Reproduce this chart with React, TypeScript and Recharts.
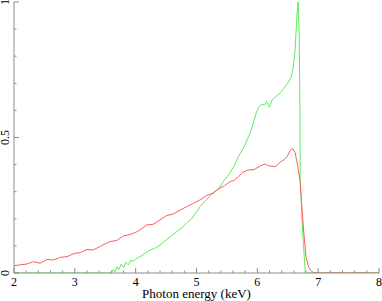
import { LineChart, Line, XAxis, YAxis } from "recharts";

const AXIS = "#8c8c8c";
const FONT = "'Liberation Serif', 'DejaVu Serif', serif";

// model curves (photon energy in keV, normalised counts)
const redEnergy = [
  2.0, 2.1, 2.21, 2.32, 2.43, 2.54, 2.65, 2.76, 2.87, 3.0, 3.09, 3.2, 3.3, 3.41,
  3.5, 3.58, 3.69, 3.8, 3.91, 4.0, 4.07, 4.18, 4.29, 4.4, 4.51, 4.62, 4.73, 4.84,
  4.95, 5.06, 5.17, 5.27, 5.36, 5.46, 5.55, 5.62, 5.69, 5.76, 5.85, 5.95, 6.05,
  6.12, 6.2, 6.3, 6.38, 6.44, 6.49, 6.54, 6.58, 6.62, 6.66, 6.7, 6.73, 6.76, 6.8,
  6.84, 6.87, 6.92, 7.0, 8.0,
];
const redFlux = [
  0.027, 0.03, 0.033, 0.042, 0.036, 0.05, 0.048, 0.058, 0.06, 0.073, 0.075, 0.087,
  0.085, 0.097, 0.108, 0.116, 0.12, 0.137, 0.142, 0.15, 0.159, 0.177, 0.18, 0.196,
  0.212, 0.218, 0.232, 0.245, 0.257, 0.27, 0.286, 0.295, 0.31, 0.322, 0.337, 0.342,
  0.355, 0.372, 0.38, 0.382, 0.395, 0.402, 0.395, 0.393, 0.41, 0.418, 0.43, 0.452,
  0.46, 0.445, 0.4, 0.345, 0.25, 0.159, 0.06, 0.025, 0.011, 0.002, 0, 0,
];

const greenEnergy = [
  2.0, 3.6, 3.63, 3.66, 3.69, 3.72, 3.76, 3.8, 3.84, 3.88, 3.92, 3.96, 4.0, 4.07,
  4.15, 4.24, 4.32, 4.4, 4.48, 4.57, 4.66, 4.75, 4.84, 4.92, 5.0, 5.06, 5.15, 5.25,
  5.36, 5.45, 5.55, 5.62, 5.69, 5.77, 5.83, 5.88, 5.93, 5.98, 6.03, 6.07, 6.12,
  6.15, 6.2, 6.24, 6.3, 6.38, 6.43, 6.5, 6.56, 6.59, 6.62, 6.65, 6.67, 6.69, 6.7,
  6.705, 6.72, 6.74, 6.76, 6.79, 8.0,
];
const greenFlux = [
  0, 0, 0.012, 0.004, 0.023, 0.012, 0.032, 0.02, 0.04, 0.03, 0.048, 0.042, 0.052,
  0.06, 0.072, 0.085, 0.092, 0.103, 0.118, 0.134, 0.15, 0.165, 0.185, 0.2, 0.225,
  0.245, 0.268, 0.29, 0.31, 0.34, 0.37, 0.395, 0.43, 0.46, 0.49, 0.515, 0.55, 0.59,
  0.615, 0.622, 0.62, 0.632, 0.612, 0.638, 0.65, 0.665, 0.68, 0.7, 0.725, 0.76,
  0.82, 0.946, 1.0, 0.86, 0.6, 0.35, 0.28, 0.17, 0.097, 0, 0,
];

const xTicks = [
  2, 2.2, 2.4, 2.6, 2.8, 3, 3.2, 3.4, 3.6, 3.8, 4, 4.2, 4.4, 4.6, 4.8, 5, 5.2, 5.4,
  5.6, 5.8, 6, 6.2, 6.4, 6.6, 6.8, 7, 7.2, 7.4, 7.6, 7.8, 8,
];
const yTicks = [0, 0.1, 0.2, 0.3, 0.4, 0.5, 0.6, 0.7, 0.8, 0.9, 1];

const redData = redEnergy.map((e, i) => ({ e, v: redFlux[i] }));
const greenData = greenEnergy.map((e, i) => ({ e, v: greenFlux[i] }));

const isInt = (v: number) => Math.abs(v - Math.round(v)) < 1e-6;
const isHalf = (v: number) => Math.abs(v * 2 - Math.round(v * 2)) < 1e-6;

function BottomTick({ x, y, payload }: any) {
  const major = isInt(payload.value);
  return (
    <g>
      <line x1={x} x2={x} y1={y} y2={y - (major ? 5 : 2.5)} stroke={AXIS} />
      {major && (
        <text x={x} y={y + 13} textAnchor="middle" fontSize={12} fontFamily={FONT} fill="#000">
          {payload.value}
        </text>
      )}
    </g>
  );
}

function TopTick({ x, y, payload }: any) {
  const major = isInt(payload.value);
  return <line x1={x} x2={x} y1={y} y2={y + (major ? 5 : 2.5)} stroke={AXIS} />;
}

function LeftTick({ x, y, payload }: any) {
  const major = isHalf(payload.value);
  return (
    <g>
      <line x1={x} x2={x + (major ? 5 : 2.5)} y1={y} y2={y} stroke={AXIS} />
      {major && (
        <text
          x={9}
          y={y}
          transform={`rotate(-90, 9, ${y})`}
          textAnchor="middle"
          fontSize={12}
          fontFamily={FONT}
          fill="#000"
        >
          {payload.value}
        </text>
      )}
    </g>
  );
}

function RightTick({ x, y, payload }: any) {
  const major = isHalf(payload.value);
  return <line x1={x} x2={x - (major ? 5 : 2.5)} y1={y} y2={y} stroke={AXIS} />;
}

export default function App() {
  return (
    <div style={{ position: "absolute", left: 0, top: 0, width: 382, height: 301, background: "#fff" }}>
      <LineChart width={382} height={301} margin={{ top: 2, right: 3, bottom: 0, left: 0 }}>
        <XAxis
          dataKey="e"
          type="number"
          domain={[2, 8]}
          ticks={xTicks}
          interval={0}
          height={28}
          stroke={AXIS}
          tickLine={false}
          tickSize={0}
          tickMargin={0}
          tick={<BottomTick />}
          label={{ value: "Photon energy (keV)", position: "insideBottom", offset: 3, fontSize: 13, fontFamily: FONT, fill: "#000" }}
        />
        <XAxis
          xAxisId="top"
          orientation="top"
          type="number"
          domain={[2, 8]}
          ticks={xTicks}
          interval={0}
          height={0}
          stroke={AXIS}
          tickLine={false}
          tickSize={0}
          tickMargin={0}
          tick={<TopTick />}
        />
        <YAxis
          type="number"
          domain={[0, 1]}
          ticks={yTicks}
          interval={0}
          width={14}
          stroke={AXIS}
          tickLine={false}
          tickSize={0}
          tickMargin={0}
          tick={<LeftTick />}
          allowDataOverflow
        />
        <YAxis
          yAxisId="right"
          orientation="right"
          type="number"
          domain={[0, 1]}
          ticks={yTicks}
          interval={0}
          width={0}
          stroke={AXIS}
          tickLine={false}
          tickSize={0}
          tickMargin={0}
          tick={<RightTick />}
        />
        <Line
          data={greenData}
          dataKey="v"
          type="linear"
          stroke="#5cee5c"
          strokeWidth={1}
          dot={false}
          isAnimationActive={false}
        />
        <Line
          data={redData}
          dataKey="v"
          type="linear"
          stroke="#ff5c5c"
          strokeWidth={1}
          dot={false}
          isAnimationActive={false}
        />
      </LineChart>
    </div>
  );
}
